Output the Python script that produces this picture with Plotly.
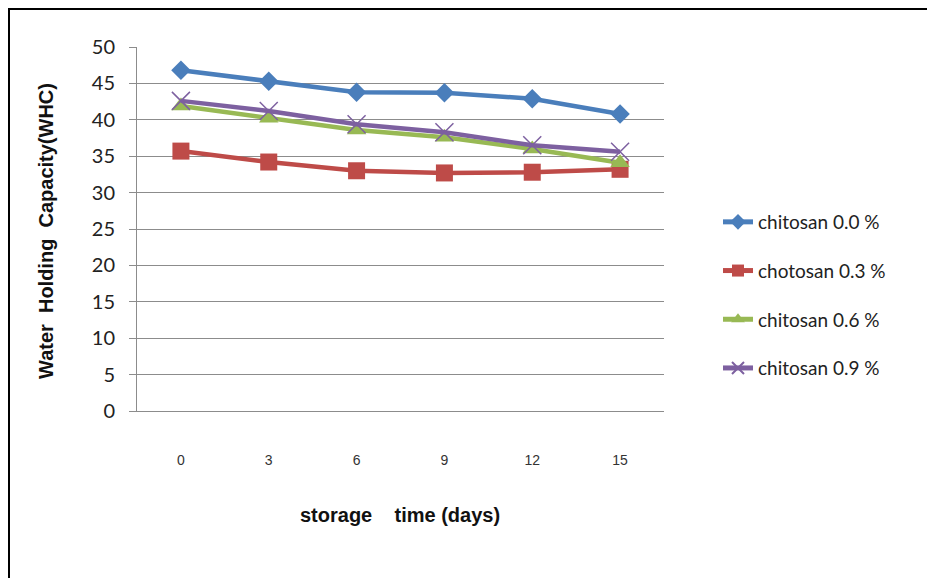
import plotly.graph_objects as go

days = ["0", "3", "6", "9", "12", "15"]
names = ["chitosan 0.0 %", "chotosan 0.3 %", "chitosan 0.6 %", "chitosan 0.9 %"]
whc_00 = [46.8, 45.3, 43.8, 43.7, 42.9, 40.8]
whc_03 = [35.7, 34.2, 33.0, 32.7, 32.8, 33.2]
whc_06 = [41.9, 40.2, 38.6, 37.6, 36.0, 34.1]
whc_09 = [42.6, 41.2, 39.4, 38.3, 36.5, 35.6]
y_ticks = [0, 5, 10, 15, 20, 25, 30, 35, 40, 45, 50]

series = [whc_00, whc_03, whc_06, whc_09]
colors = ["#4A7EBB", "#BE4B48", "#98B954", "#7D60A0"]
symbols = ["diamond", "square", "triangle-up", "x-thin"]
msizes = [15, 17, 17, 18]

fig = go.Figure()
for i, (nm, vals) in enumerate(zip(names, series)):
    marker = dict(symbol=symbols[i], size=msizes[i], color=colors[i])
    if symbols[i] == "x-thin":
        marker["line"] = dict(color=colors[i], width=1.5)
    fig.add_trace(go.Scatter(
        x=days, y=vals, name=nm, mode="lines+markers",
        line=dict(color=colors[i], width=4.5),
        marker=marker, legendgroup=str(i),
    ))

OFF = 8  # page body margin
L, R, T, B = 137 - OFF, 664 - OFF, 47 - OFF, 411 - OFF
W, H = 935 - OFF, 578 - OFF
pw, ph = R - L, B - T


def px(x):
    return (x - OFF - L) / pw


def py(y):
    return 1 - (y - OFF - T) / ph


fig.update_layout(
    width=W, height=H,
    margin=dict(l=L, r=W - R, t=T, b=H - B),
    paper_bgcolor="white", plot_bgcolor="white",
    showlegend=True,
    legend=dict(
        x=px(718), y=py(203), xanchor="left", yanchor="top",
        font=dict(family="Lato, Noto Sans, sans-serif", size=19, color="#222"),
        tracegroupgap=21, itemsizing="constant", bgcolor="rgba(0,0,0,0)",
    ),
    xaxis=dict(
        type="category", range=[-0.5, 5.5], showgrid=False,
        showline=True, linecolor="#8C8C8C", linewidth=1,
        ticks="", ticklabelstandoff=36,
        tickfont=dict(family="Liberation Sans, Arial, sans-serif", size=14, color="#333"),
        zeroline=False,
    ),
    yaxis=dict(
        range=[0, 50], tickvals=y_ticks, showgrid=True, gridcolor="#8C8C8C", gridwidth=1,
        showline=True, linecolor="#8C8C8C", linewidth=1,
        ticks="outside", ticklen=7, tickcolor="#8C8C8C", ticklabelstandoff=10,
        tickfont=dict(family="Lato, Noto Sans, sans-serif", size=20, color="#222"),
        zeroline=False,
    ),
    annotations=[
        dict(text="<b>Water&nbsp; Holding&nbsp; Capacity(WHC)</b>", xref="paper", yref="paper",
             x=px(46), y=py(231), textangle=-90, showarrow=False,
             font=dict(family="Liberation Sans, Arial, sans-serif", size=20, color="#111"),
             xanchor="center", yanchor="middle"),
        dict(text="<b>storage&nbsp;&nbsp;&nbsp; time (days)</b>", xref="paper", yref="paper",
             x=px(400), y=py(515), showarrow=False,
             font=dict(family="Liberation Sans, Arial, sans-serif", size=20, color="#111"),
             xanchor="center", yanchor="middle"),
    ],
    shapes=[
        dict(type="line", xref="paper", yref="paper",
             x0=px(9), x1=px(9), y0=py(8), y1=py(620),
             line=dict(color="black", width=2)),
        dict(type="line", xref="paper", yref="paper",
             x0=px(8), x1=px(960), y0=py(9), y1=py(9),
             line=dict(color="black", width=2)),
    ],
)

fig.write_html("out.html")
